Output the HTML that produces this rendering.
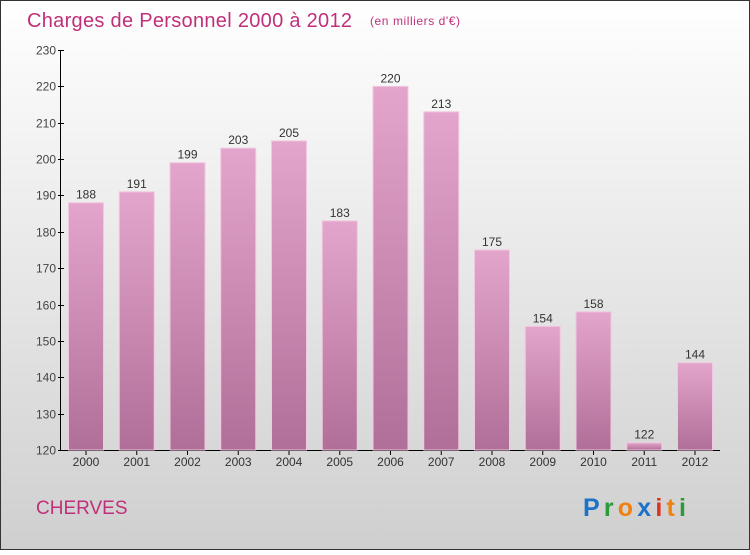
<!DOCTYPE html>
<html><head><meta charset="utf-8"><style>
body{margin:0;width:750px;height:550px;overflow:hidden;font-family:"Liberation Sans",sans-serif}
</style></head><body>
<svg width="750" height="550" xmlns="http://www.w3.org/2000/svg">
<defs>
<linearGradient id="bg" x1="0" y1="0" x2="0" y2="1"><stop offset="0" stop-color="#ffffff"/><stop offset="1" stop-color="#cfcfcf"/></linearGradient>
<linearGradient id="bar" x1="0" y1="0" x2="0" y2="1"><stop offset="0" stop-color="#e4a5cc"/><stop offset="1" stop-color="#b06f98"/></linearGradient>
</defs>
<rect x="0.5" y="0.5" width="749" height="549" fill="url(#bg)" stroke="#333"/>
<text x="27" y="27" font-size="20" fill="#c0307a" textLength="325">Charges de Personnel 2000 à 2012</text>
<text x="370" y="25" font-size="12" fill="#c0307a" textLength="90">(en milliers d'€)</text>
<text x="36" y="514" font-size="19" fill="#c0307a">CHERVES</text>
<text x="583" y="516" font-size="25" font-weight="bold" textLength="103"><tspan fill="#1a73c8">P</tspan><tspan fill="#2a9a3a">r</tspan><tspan fill="#f08010">o</tspan><tspan fill="#1a73c8">x</tspan><tspan fill="#e03020">i</tspan><tspan fill="#f08010">t</tspan><tspan fill="#2a9a3a">i</tspan></text>
<g id="axes"></g><g id="bars"></g>
</svg>
<script>
const years=["2000","2001","2002","2003","2004","2005","2006","2007","2008","2009","2010","2011","2012"];
const values=[188,191,199,203,205,183,220,213,175,154,158,122,144];
const ticks=[120,130,140,150,160,170,180,190,200,210,220,230];
const NS="http://www.w3.org/2000/svg";
const y0=450,yTop=50,vMin=120,vMax=230;
function yS(v){return y0-(v-vMin)/(vMax-vMin)*(y0-yTop);}
function xS(i){return 86+i*50.75;}
function mk(t,a,p){const e=document.createElementNS(NS,t);for(const k in a)e.setAttribute(k,a[k]);p.appendChild(e);return e;}
const ax=document.getElementById('axes'),bg=document.getElementById('bars');
const yl=mk('line',{x1:60.5,y1:yTop,x2:60.5,y2:y0,stroke:'#000'},ax);


const xl=mk('line',{x1:60,y1:y0+0.5,x2:720,y2:y0+0.5,stroke:'#000'},ax);


ticks.forEach(t=>{const y=Math.round(yS(t))+0.5;
mk('line',{x1:58,y1:y,x2:64,y2:y,stroke:'#000'},ax);
const tx=mk('text',{x:56,y:y+4,'font-size':12,'text-anchor':'end',fill:'#444'},ax);tx.textContent=t;

});
years.forEach((yr,i)=>{const cx=xS(i),top=yS(values[i]);
const r=mk('rect',{x:cx-17.5,y:top,width:35,height:y0-top,fill:'url(#bar)',stroke:'#f0c8e0','stroke-width':1},bg);


const v=mk('text',{x:cx,y:top-4,'font-size':12,'text-anchor':'middle',fill:'#333'},bg);v.textContent=values[i];


mk('line',{x1:cx,y1:y0,x2:cx,y2:y0+5,stroke:'#000'},ax);
const l=mk('text',{x:cx,y:466,'font-size':12,'text-anchor':'middle',fill:'#333'},ax);l.textContent=yr;

});
</script>
</body></html>
